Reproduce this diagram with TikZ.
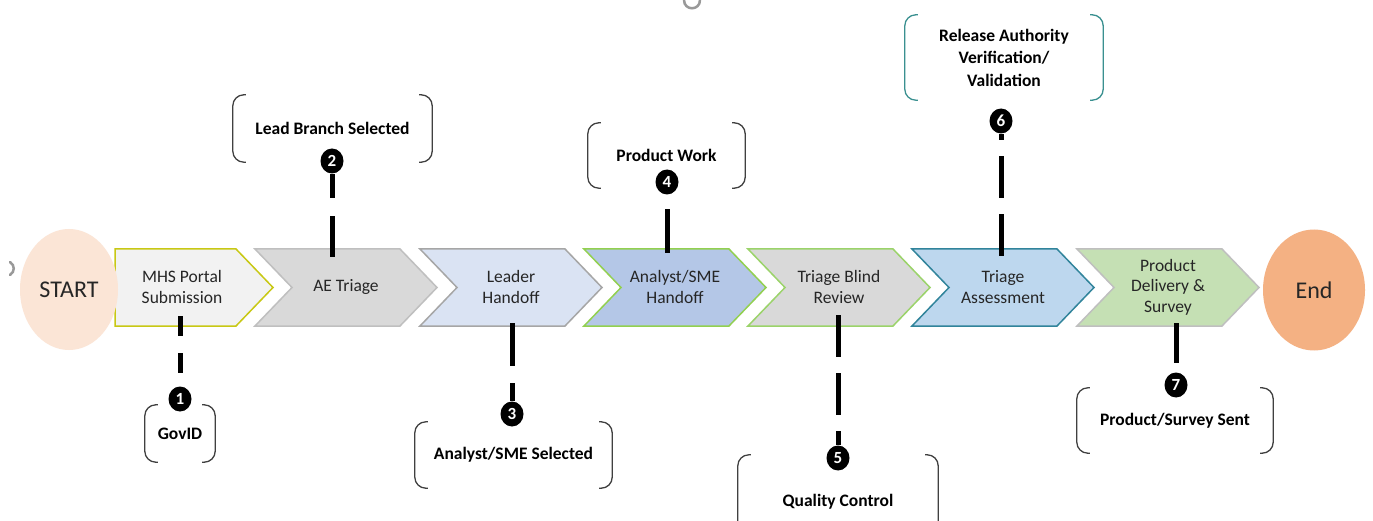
\documentclass[tikz,border=0pt]{standalone}
\usepackage{fontspec}
\setmainfont{Carlito}
\usetikzlibrary{shapes.geometric}
\definecolor{txt}{HTML}{262626}
\definecolor{startfill}{HTML}{FBE5D6}
\definecolor{endfill}{HTML}{F4B183}
\definecolor{fA}{HTML}{F2F2F2}\definecolor{dA}{HTML}{C8C814}
\definecolor{fB}{HTML}{D9D9D9}\definecolor{dB}{HTML}{BFBFBF}
\definecolor{fC}{HTML}{DAE3F3}\definecolor{dC}{HTML}{A6A6A6}
\definecolor{fD}{HTML}{B4C7E7}\definecolor{dD}{HTML}{92D050}
\definecolor{fE}{HTML}{D9D9D9}\definecolor{dE}{HTML}{9BD36A}
\definecolor{fF}{HTML}{BDD7EE}\definecolor{dF}{HTML}{31849B}
\definecolor{fG}{HTML}{C5E0B4}\definecolor{dG}{HTML}{BFBFBF}
\definecolor{brkc}{HTML}{404040}
\definecolor{brkteal}{HTML}{3A9090}
\begin{document}
\begin{tikzpicture}[x=1pt,y=-1pt,
  chev/.style={line width=1.5pt, line join=miter},
  stxt/.style={font=\fontsize{17.5}{20.5}\selectfont, text=txt, align=center, inner sep=0},
  lbl/.style={font=\bfseries\fontsize{17.5}{22.5}\selectfont, text=black, align=center, inner sep=0},
  brk/.style={draw=brkc, line width=1.3pt, rounded corners=11pt},
  num/.style={ellipse, fill=black, text=white, font=\bfseries\fontsize{17}{17}\selectfont, inner sep=0, minimum width=23pt, minimum height=25pt},
  link/.style={draw=black, line width=5pt},
  ghost/.style={draw=gray!80, line width=2.5pt, line cap=round},
]
\clip (0,0) rectangle (1373,521);
\fill[white] (0,0) rectangle (1373,521);

% process chevrons
\path[chev, fill=fA, draw=dA] (115,249) -- (236,249) -- (273,287.5) -- (236,326) -- (115,326) -- cycle;
\path[chev, fill=fB, draw=dB] (255,249) -- ++(145,0) -- ++(37,38.5) -- ++(-37,38.5) -- ++(-145,0) -- ++(37,-38.5) -- cycle;
\path[chev, fill=fC, draw=dC] (420,249) -- ++(145,0) -- ++(37,38.5) -- ++(-37,38.5) -- ++(-145,0) -- ++(37,-38.5) -- cycle;
\path[chev, fill=fD, draw=dD] (584,249) -- ++(145,0) -- ++(37,38.5) -- ++(-37,38.5) -- ++(-145,0) -- ++(37,-38.5) -- cycle;
\path[chev, fill=fE, draw=dE] (748,249) -- ++(145,0) -- ++(37,38.5) -- ++(-37,38.5) -- ++(-145,0) -- ++(37,-38.5) -- cycle;
\path[chev, fill=fF, draw=dF] (912,249) -- ++(145,0) -- ++(37,38.5) -- ++(-37,38.5) -- ++(-145,0) -- ++(37,-38.5) -- cycle;
\path[chev, fill=fG, draw=dG] (1077,249) -- ++(145,0) -- ++(37,38.5) -- ++(-37,38.5) -- ++(-145,0) -- ++(37,-38.5) -- cycle;

% start / end
\node[ellipse, fill=startfill, minimum width=98pt, minimum height=121pt, inner sep=0,
      font=\fontsize{24}{24}\selectfont, text=txt] (start) at (69,289.5) {START};
\node[ellipse, fill=endfill, minimum width=102pt, minimum height=121pt, inner sep=0,
      font=\fontsize{24}{24}\selectfont, text=txt] (end) at (1314,290) {End};

% step labels
\node[stxt] (s1) at (182,287) {MHS Portal\\Submission};
\node[stxt] (s2) at (346,287) {AE Triage};
\node[stxt] (s3) at (511,287) {Leader\\Handoff};
\node[stxt] (s4) at (675,287) {Analyst/SME\\Handoff};
\node[stxt] (s5) at (839,287) {Triage Blind\\Review};
\node[stxt] (s6) at (1003,287) {Triage\\Assessment};
\node[stxt] (s7) at (1168,287) {Product\\Delivery \&\\Survey};

% callout boxes
\node[lbl, minimum width=70pt, minimum height=57pt] (b1) at (180,433.5) {GovID};
\node[lbl, minimum width=199pt, minimum height=67pt] (b2) at (332.5,128.5) {Lead Branch Selected};
\node[lbl, minimum width=197pt, minimum height=66pt] (b3) at (513.5,455) {Analyst/SME Selected};
\node[lbl, minimum width=157pt, minimum height=65pt] (b4) at (666.5,155.5) {Product Work};
\node[lbl, minimum width=200pt, minimum height=94pt] (b5) at (838,502) {Quality Control};
\node[lbl, minimum width=198pt, minimum height=85pt] (b6) at (1004,57.5) {Release Authority\\Verification/\\Validation};
\node[lbl, minimum width=196pt, minimum height=65pt] (b7) at (1175,420.5) {Product/Survey Sent};

\foreach \b in {b1,b2,b3,b4,b5,b7}{
  \draw[brk] ([xshift=13pt]\b.north west) -- (\b.north west) -- (\b.south west) -- ([xshift=13pt]\b.south west);
  \draw[brk] ([xshift=-13pt]\b.north east) -- (\b.north east) -- (\b.south east) -- ([xshift=-13pt]\b.south east);
}
\draw[brk, draw=brkteal] ([xshift=13pt]b6.north west) -- (b6.north west) -- (b6.south west) -- ([xshift=13pt]b6.south west);
\draw[brk, draw=brkteal] ([xshift=-13pt]b6.north east) -- (b6.north east) -- (b6.south east) -- ([xshift=-13pt]b6.south east);

% connector anchors inside the chevrons
\coordinate (p1) at (180,316);
\coordinate (p2) at (332,257);
\coordinate (p3) at (512,323);
\coordinate (p4) at (667,253);
\coordinate (p5) at (838,315);
\coordinate (p6) at (1001,256);
\coordinate (p7) at (1176,323);

% numbered markers
\node[num] (n1) at (180,399) {1};
\node[num] (n2) at (332,161) {2};
\node[num] (n3) at (512,414) {3};
\node[num] (n4) at (667,182) {4};
\node[num] (n5) at (838,458) {5};
\node[num] (n6) at (1001,121) {6};
\node[num] (n7) at (1176,385) {7};

% connectors
\draw[link, dash pattern=on 20pt off 17pt] (p1) -- (n1);
\draw[link, dash pattern=on 41pt off 18pt] (p2) -- (n2);
\draw[link, dash pattern=on 43pt off 17pt] (p3) -- (n3);
\draw[link, dash pattern=on 44pt off 30pt] (p4) -- (n4);
\draw[link, dash pattern=on 42pt off 16pt] (p5) -- (n5);
\draw[link, dash pattern=on 42pt off 16pt] (p6) -- (n6);
\draw[link, dash pattern=on 40pt off 30pt] (p7) -- (n7);

% small edge marks
\draw[ghost] (684,0) .. controls (684,11) and (700,11) .. (700,0);
\draw[ghost] (10,262) .. controls (15,265) and (15,272) .. (10,275);
\end{tikzpicture}
\end{document}
